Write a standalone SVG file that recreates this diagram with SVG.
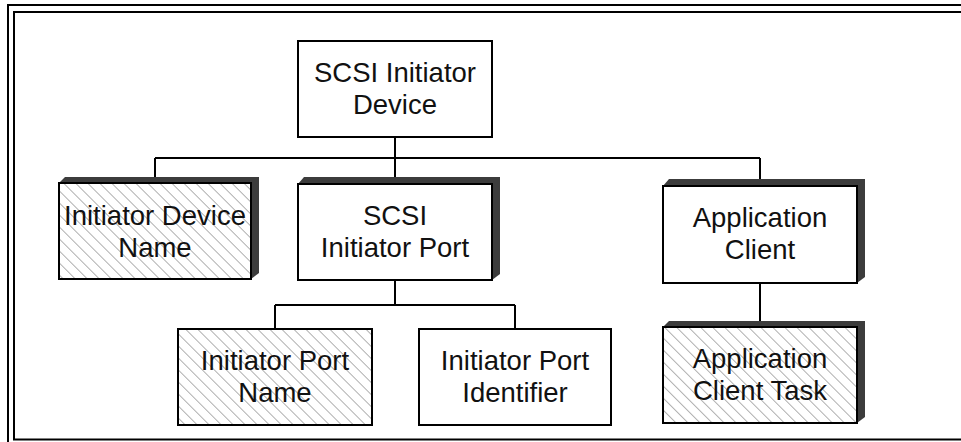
<svg xmlns="http://www.w3.org/2000/svg" width="961" height="442" viewBox="0 0 961 442">
  <style>
    .frame{fill:none;stroke:#000;stroke-width:2}
    .box{stroke:#000;stroke-width:2}
    .plain{fill:#fff}
    .hatch{fill:url(#hatch)}
    .shadow{fill:#3c3c3c}
    .conn{fill:none;stroke:#000;stroke-width:2}
    text{font-family:"Liberation Sans",Arial,Helvetica,sans-serif;font-size:27.5px;fill:#111;text-anchor:middle}
  </style>
  <defs>
    <pattern id="hatch" patternUnits="userSpaceOnUse" width="8.5" height="8.5" patternTransform="rotate(-45)">
      <rect width="8.5" height="8.5" fill="#fff"/>
      <line x1="0.5" y1="0" x2="0.5" y2="8.5" stroke="#a8a8a8" stroke-width="0.9"/>
    </pattern>
  </defs>
  <rect width="961" height="442" fill="#fff"/>
  <rect class="frame" x="8" y="5" width="1000" height="500"/>
  <rect class="frame" x="14" y="12" width="1000" height="427.5"/>

  <g id="connectors">
    <line class="conn" x1="395" y1="137" x2="395" y2="178"/>
    <line class="conn" x1="155" y1="158" x2="760" y2="158"/>
    <line class="conn" x1="155" y1="158" x2="155" y2="178"/>
    <line class="conn" x1="760" y1="158" x2="760" y2="180"/>
    <line class="conn" x1="395" y1="280" x2="395" y2="305"/>
    <line class="conn" x1="275" y1="305" x2="515" y2="305"/>
    <line class="conn" x1="275" y1="305" x2="275" y2="329"/>
    <line class="conn" x1="515" y1="305" x2="515" y2="329"/>
    <line class="conn" x1="760" y1="283" x2="760" y2="321"/>
  </g>

  <g id="scsi-initiator-device">
    <rect class="box plain" x="298" y="41" width="194" height="96"/>
    <text x="395" y="82">SCSI Initiator</text>
    <text x="395" y="114">Device</text>
  </g>

  <g id="initiator-device-name">
    <polygon class="shadow" points="59,183 65,177 259,177 259,273 251,279"/>
    <rect class="box hatch" x="59" y="183" width="192" height="96"/>
    <text x="155" y="225">Initiator Device</text>
    <text x="155" y="257">Name</text>
  </g>

  <g id="scsi-initiator-port">
    <polygon class="shadow" points="298,184 304,177 500,177 500,274 492,280"/>
    <rect class="box plain" x="298" y="184" width="194" height="96"/>
    <text x="395" y="225">SCSI</text>
    <text x="395" y="257">Initiator Port</text>
  </g>

  <g id="application-client">
    <polygon class="shadow" points="663,186 669,179 865,179 865,277 857,283"/>
    <rect class="box plain" x="663" y="186" width="194" height="97"/>
    <text x="760" y="227">Application</text>
    <text x="760" y="259">Client</text>
  </g>

  <g id="initiator-port-name">
    <rect class="box hatch" x="178" y="329" width="194" height="96"/>
    <text x="275" y="370">Initiator Port</text>
    <text x="275" y="402">Name</text>
  </g>

  <g id="initiator-port-identifier">
    <rect class="box plain" x="419" y="329" width="192" height="96"/>
    <text x="515" y="370">Initiator Port</text>
    <text x="515" y="402">Identifier</text>
  </g>

  <g id="application-client-task">
    <polygon class="shadow" points="663,327 669,321 865,321 865,417 857,423"/>
    <rect class="box hatch" x="663" y="327" width="194" height="96"/>
    <text x="760" y="368">Application</text>
    <text x="760" y="400">Client Task</text>
  </g>
</svg>
